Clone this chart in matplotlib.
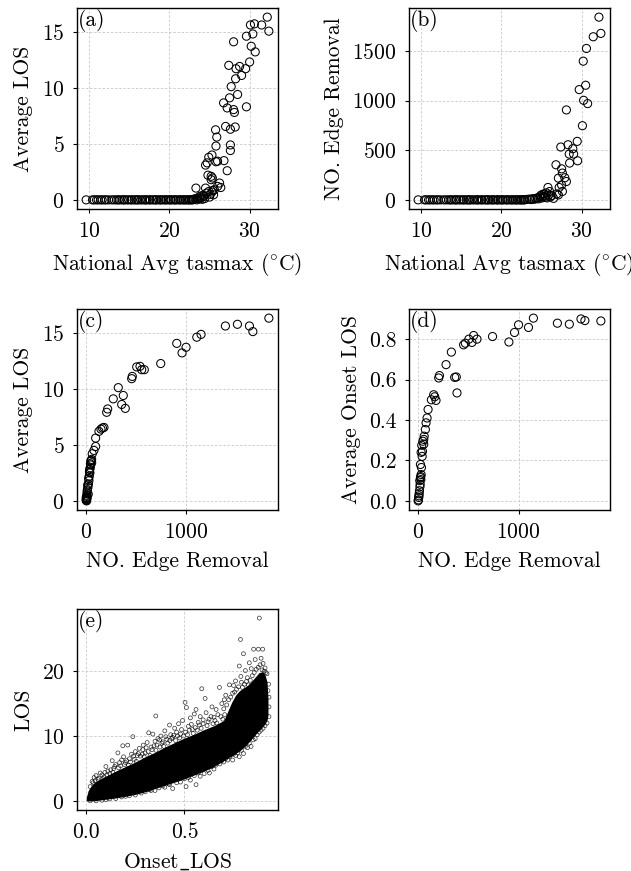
import matplotlib
matplotlib.use("Agg")
import matplotlib.pyplot as plt

plt.rcParams['font.family'] = 'serif'
plt.rcParams['font.serif'] = ['cmr10']
plt.rcParams['mathtext.fontset'] = 'cm'
plt.rcParams['axes.formatter.use_mathtext'] = True
plt.rcParams['axes.unicode_minus'] = False

FS = 15.5

# days with no heat effect (avg LOS and edge removal both 0)
cool_tasmax = [9.6, 10.4, 10.6, 10.9, 11.1, 11.4, 11.6, 11.9, 12.1, 12.4, 12.8, 13.1,
               13.4, 13.6, 13.8, 14.1, 14.3, 14.4, 14.7, 14.9, 15.2, 15.3, 15.6, 15.8,
               16.0, 16.1, 16.4, 16.6, 16.9, 17.0, 17.2, 17.5, 17.6, 17.9, 18.1, 18.3,
               18.4, 18.7, 18.9, 19.0, 19.3, 19.5, 19.6, 19.9, 20.1, 20.2, 20.5, 20.7,
               20.8, 21.1, 21.3, 21.4, 21.7, 21.8, 22.0, 22.2, 22.4, 22.5, 22.7, 22.9]

# (a) tasmax vs average LOS (warm days)
a_tasmax = [22.8, 23.0, 23.2, 23.3, 23.4, 23.5, 23.6, 23.7, 23.8, 23.9, 24.0, 24.1, 24.2,
            24.3, 24.4, 24.5, 24.5, 24.6, 24.7, 24.8, 24.9, 24.9, 25.0, 25.1, 25.2, 25.2,
            25.3, 25.3, 25.35, 25.4, 25.5, 25.6, 25.75, 25.8, 25.8, 25.9, 26.0, 26.0, 26.25,
            26.4, 26.75, 26.8, 27.0, 27.2, 27.2, 27.4, 27.5, 27.6, 27.6, 27.6, 27.7, 28.0,
            28.0, 28.1, 28.2, 28.25, 28.3, 28.5, 28.75, 29.0, 29.5, 29.6, 29.6, 30.0, 30.1,
            30.2, 30.4, 30.6, 30.7, 31.5, 32.2, 32.4]
a_los = [0.02, 0.05, 0.1, 1.05, 0.0, 0.15, 0.08, 0.25, 0.1, 0.35, 0.2, 0.05, 0.4,
         0.3, 0.12, 3.1, 1.05, 0.6, 3.3, 2.2, 3.8, 0.75, 0.25, 0.5, 2.1, 1.8,
         4.0, 0.7, 1.95, 0.85, 0.45, 0.9, 6.25, 4.8, 3.4, 5.6, 3.45, 1.2, 1.5,
         1.1, 8.65, 3.5, 6.55, 8.2, 2.6, 12.0, 9.1, 6.3, 4.9, 4.4, 10.1, 14.1,
         8.05, 7.8, 6.5, 10.8, 11.7, 9.4, 11.9, 11.1, 11.7, 14.6, 8.3, 12.3, 15.6,
         13.7, 14.8, 15.7, 13.2, 15.6, 16.3, 15.05]

# (b) tasmax vs number of removed edges (warm days)
b_tasmax = [22.8, 23.2, 23.5, 23.7, 23.9, 24.1, 24.3, 24.5, 24.6, 24.8, 24.9, 25.0, 25.1,
            25.2, 25.3, 25.4, 25.5, 25.6, 25.7, 25.8, 25.9, 26.0, 26.1, 26.3, 26.5, 26.8,
            26.9, 27.1, 27.1, 27.2, 27.4, 27.5, 27.5, 27.6, 27.6, 27.9, 28.1, 28.1, 28.3,
            28.45, 28.5, 28.9, 29.0, 29.45, 29.5, 29.7, 30.1, 30.2, 30.25, 30.5, 30.6,
            30.75, 31.45, 32.16, 32.4]
b_edges = [2, 5, 8, 3, 12, 6, 15, 20, 10, 30, 45, 18, 55,
           35, 60, 25, 40, 70, 20, 125, 50, 84, 30, 45, 15, 354,
           60, 219, 50, 125, 533, 313, 150, 270, 85, 223, 907, 185, 556,
           462, 371, 516, 462, 590, 394, 1112, 748, 1399, 1004, 1156, 1527,
           971, 1645, 1843, 1679]

# (c) edge removal vs average LOS
c_edges = [1827, 1667, 1633, 1513, 1393, 1150, 1107, 907, 1000, 960, 747, 583, 557, 540,
           507, 463, 457, 323, 373, 273, 357, 393, 217, 207, 180, 165, 150, 130, 97, 97,
           80, 63, 57, 57, 50, 43, 47, 40, 35, 30, 27, 17, 20, 23, 13, 15, 10, 7, 5, 3,
           9, 11, 2, 4, 6, 12, 25, 33, 37, 45, 52]
c_los = [16.3, 15.1, 15.6, 15.75, 15.6, 14.85, 14.6, 14.05, 13.7, 13.2, 12.25, 11.7, 11.7, 12.0,
         11.95, 11.1, 10.9, 10.1, 9.4, 9.1, 8.6, 8.25, 8.2, 7.9, 6.55, 6.5, 6.4, 6.2, 5.6, 4.85,
         4.5, 4.2, 3.7, 3.4, 3.55, 2.95, 3.2, 2.5, 2.6, 1.8, 2.0, 1.4, 1.2, 0.6, 0.9, 1.0, 0.5, 0.0,
         0.2, 0.3, 0.4, 0.7, 0.05, 0.1, 0.15, 0.25, 1.5, 2.2, 2.8, 3.3, 3.6]

# (d) edge removal vs average onset LOS
d_edges = [1820, 1661, 1622, 1506, 1387, 1148, 1099, 1000, 960, 904, 741, 586, 553, 536,
           505, 470, 453, 331, 278, 212, 205, 364, 380, 387, 155, 165, 178, 132, 99, 89,
           79, 72, 60, 56, 56, 43, 40, 23, 33, 30, 47, 23, 30, 20, 13, 6, 3, 0, 16, 26,
           10, 18, 8, 36, 27]
d_onset = [0.89, 0.892, 0.90, 0.874, 0.879, 0.904, 0.858, 0.871, 0.833, 0.786, 0.813, 0.80,
           0.818, 0.784, 0.80, 0.78, 0.772, 0.736, 0.674, 0.62, 0.608, 0.611, 0.613, 0.534,
           0.525, 0.515, 0.497, 0.50, 0.452, 0.41, 0.386, 0.353, 0.32, 0.304, 0.28, 0.245,
           0.22, 0.18, 0.165, 0.24, 0.295, 0.115, 0.13, 0.082, 0.05, 0.017, 0.005, 0.0, 0.1,
           0.12, 0.035, 0.07, 0.025, 0.275, 0.105]

# (e) patient level: dense core band plus the scattered points around it
e_band_x = [0.0, 0.01, 0.03, 0.05, 0.1, 0.15, 0.2, 0.25, 0.3, 0.35, 0.4, 0.45, 0.5, 0.55,
            0.6, 0.65, 0.7, 0.72, 0.74, 0.76, 0.78, 0.8, 0.82, 0.84, 0.86, 0.88, 0.9,
            0.91, 0.92, 0.925]
e_band_lo = [0.0, 0.0, 0.0, 0.05, 0.25, 0.45, 0.7, 1.0, 1.4, 1.9, 2.4, 2.9, 3.4, 4.0,
             4.6, 5.3, 6.2, 6.6, 6.9, 7.3, 7.7, 8.2, 8.8, 9.5, 10.2, 10.9, 11.5,
             11.9, 12.4, 13.2]
e_band_hi = [0.5, 1.6, 2.5, 3.0, 3.8, 4.6, 5.3, 6.0, 6.8, 7.5, 8.3, 9.0, 9.7, 10.3,
             11.0, 11.6, 12.4, 13.8, 15.2, 16.3, 17.0, 17.4, 17.8, 18.4, 19.1, 19.8, 19.9,
             19.4, 18.4, 15.8]
e_onset = [0.03, 0.04, 0.05, 0.06, 0.071, 0.08, 0.09, 0.10, 0.11, 0.12, 0.132, 0.14, 0.15,
           0.161, 0.17, 0.18, 0.186, 0.19, 0.20, 0.211, 0.22, 0.23, 0.237, 0.24, 0.25, 0.26,
           0.27, 0.288, 0.29, 0.30, 0.31, 0.318, 0.33, 0.339, 0.35, 0.354, 0.36, 0.373, 0.38,
           0.39, 0.40, 0.41, 0.424, 0.43, 0.44, 0.45, 0.46, 0.47, 0.48, 0.49, 0.503, 0.51,
           0.52, 0.53, 0.54, 0.55, 0.559, 0.57, 0.58, 0.588, 0.595, 0.605, 0.61, 0.62, 0.635,
           0.64, 0.65, 0.661, 0.67, 0.678, 0.69, 0.70, 0.703, 0.71, 0.729, 0.745, 0.75, 0.76,
           0.779, 0.785, 0.787, 0.79, 0.80, 0.81, 0.82, 0.83, 0.84, 0.852, 0.86, 0.876, 0.881,
           0.89, 0.898, 0.90, 0.91, 0.92, 0.925, 0.93, 0.93,
           0.02, 0.08, 0.15, 0.25, 0.322, 0.35, 0.40, 0.424, 0.44, 0.48, 0.508, 0.53, 0.559,
           0.58, 0.60, 0.627, 0.65, 0.68, 0.70, 0.72, 0.745, 0.76, 0.779, 0.80, 0.82, 0.839,
           0.86, 0.88, 0.90, 0.92,
           0.02, 0.035, 0.045, 0.065, 0.085, 0.095, 0.105, 0.125, 0.135, 0.145, 0.165, 0.175,
           0.195, 0.205, 0.215, 0.225, 0.245, 0.255, 0.265, 0.275, 0.285, 0.295, 0.305, 0.315,
           0.325, 0.335, 0.345, 0.355, 0.365, 0.375, 0.385, 0.395, 0.405, 0.415, 0.425, 0.435,
           0.445, 0.455, 0.465, 0.475, 0.485, 0.495, 0.505, 0.515, 0.525, 0.535, 0.545, 0.555,
           0.565, 0.575, 0.585, 0.595, 0.615, 0.625, 0.645, 0.655, 0.665, 0.685, 0.695, 0.705,
           0.715, 0.725, 0.735, 0.755, 0.765, 0.775, 0.795, 0.805, 0.815, 0.825, 0.835, 0.845,
           0.855, 0.865, 0.875, 0.885, 0.895, 0.905, 0.915, 0.928,
           0.05, 0.1, 0.12, 0.18, 0.2, 0.22, 0.28, 0.3, 0.33, 0.37, 0.39, 0.42, 0.46, 0.5,
           0.52, 0.55, 0.57, 0.62, 0.64, 0.66, 0.69, 0.71, 0.73, 0.75, 0.77, 0.79, 0.81,
           0.83, 0.85, 0.87, 0.89, 0.91, 0.93]
e_los = [3.0, 3.6, 3.9, 3.3, 4.3, 4.0, 3.7, 5.3, 4.6, 4.2, 6.2, 5.0, 5.6,
         7.4, 5.9, 6.3, 8.5, 6.8, 5.9, 8.6, 6.5, 7.2, 9.9, 6.9, 7.6, 7.0,
         8.1, 7.9, 8.6, 7.4, 9.0, 10.5, 8.3, 10.3, 9.2, 13.1, 8.6, 9.4, 10.0,
         9.1, 10.8, 9.5, 11.7, 10.2, 9.8, 11.2, 10.6, 11.9, 10.3, 12.4, 15.2, 14.4,
         11.5, 12.8, 11.0, 13.4, 14.1, 12.1, 13.0, 17.3, 12.5, 15.8, 13.6, 12.2, 13.0,
         14.5, 12.9, 14.1, 13.3, 17.5, 15.0, 14.2, 15.6, 16.3, 17.9, 16.6, 17.8, 18.5,
         20.8, 24.9, 19.2, 18.3, 22.7, 20.1, 19.0, 21.3, 20.4, 23.4, 21.8, 23.4, 28.2,
         22.0, 23.4, 21.2, 20.5, 19.6, 17.0, 16.0, 14.5,
         0.0, 0.1, 0.35, 0.9, 1.7, 1.6, 2.1, 2.5, 1.9, 2.9, 2.2, 3.2, 2.5,
         3.8, 4.2, 4.3, 4.9, 5.7, 6.0, 6.3, 6.3, 7.0, 6.8, 7.3, 8.2, 8.4,
         9.6, 10.6, 11.2, 12.0,
         2.2, 2.8, 3.1, 3.5, 3.4, 4.4, 4.0, 4.8, 4.4, 5.3, 5.1, 5.4,
         5.6, 6.2, 5.5, 6.0, 6.4, 6.1, 7.3, 6.9, 7.2, 6.8, 8.2, 7.6,
         7.0, 7.9, 8.5, 7.8, 9.6, 8.3, 8.9, 8.4, 9.9, 8.9, 9.3, 9.6,
         10.1, 9.3, 10.0, 9.7, 11.0, 10.0, 10.6, 10.2, 10.9, 11.8, 10.4, 11.3,
         10.9, 11.7, 11.2, 11.9, 11.6, 12.6, 11.9, 12.4, 12.0, 13.0, 12.6, 13.3,
         14.8, 15.6, 16.0, 16.8, 17.2, 17.6, 17.5, 18.0, 18.4, 17.9, 18.6, 19.3,
         19.8, 20.3, 20.6, 21.0, 20.2, 20.0, 19.8, 18.0,
         0.0, 0.2, 0.3, 0.6, 0.7, 0.8, 1.2, 1.4, 1.6, 2.0, 2.3, 2.6, 2.8, 3.4,
         3.6, 3.9, 4.3, 4.7, 5.3, 5.5, 6.2, 6.5, 6.8, 7.2, 7.4, 7.8, 8.4,
         8.9, 9.4, 10.2, 10.9, 11.6, 13.0]

W, H = 631, 871
fig = plt.figure(figsize=(W / 100, H / 100), dpi=100)


def make_ax(left, top, size=201):
    ax = fig.add_axes([left / W, 1 - (top + size) / H, size / W, size / H])
    ax.grid(True, ls='--', lw=0.6, color='#c8c8c8', dashes=(3, 2))
    ax.set_axisbelow(True)
    ax.tick_params(labelsize=FS, length=3, width=0.8, pad=6)
    for s in ax.spines.values():
        s.set_linewidth(1.0)
    return ax


def tag(ax, s):
    ax.text(0.005, 0.997, s, transform=ax.transAxes, fontsize=FS, va='top', ha='left')


def circles(ax, x, y):
    ax.scatter(x, y, s=34, facecolors='none', edgecolors='black', linewidths=0.75, zorder=3)


# (a)
ax = make_ax(77, 8)
circles(ax, cool_tasmax + a_tasmax, [0] * len(cool_tasmax) + a_los)
ax.set_xticks([10, 20, 30])
ax.set_yticks([0, 5, 10, 15])
ax.set_xlabel(r'National Avg tasmax ($^{\circ}$C)', fontsize=FS, labelpad=7)
ax.set_ylabel('Average LOS', fontsize=FS, labelpad=6)
tag(ax, '(a)')

# (b)
ax = make_ax(409, 8)
circles(ax, cool_tasmax + b_tasmax, [0] * len(cool_tasmax) + b_edges)
ax.set_xticks([10, 20, 30])
ax.set_yticks([0, 500, 1000, 1500])
ax.set_xlabel(r'National Avg tasmax ($^{\circ}$C)', fontsize=FS, labelpad=7)
ax.set_ylabel('NO. Edge Removal', fontsize=FS, labelpad=6)
tag(ax, '(b)')

# (c)
ax = make_ax(77, 309)
circles(ax, c_edges, c_los)
ax.set_xticks([0, 1000])
ax.set_yticks([0, 5, 10, 15])
ax.set_xlabel('NO. Edge Removal', fontsize=FS, labelpad=7)
ax.set_ylabel('Average LOS', fontsize=FS, labelpad=6)
tag(ax, '(c)')

# (d)
ax = make_ax(409, 309)
circles(ax, d_edges, d_onset)
ax.set_xticks([0, 1000])
ax.set_yticks([0.0, 0.2, 0.4, 0.6, 0.8])
ax.set_yticklabels(['0.0', '0.2', '0.4', '0.6', '0.8'])
ax.set_xlabel('NO. Edge Removal', fontsize=FS, labelpad=7)
ax.set_ylabel('Average Onset LOS', fontsize=FS, labelpad=6)
tag(ax, '(d)')

# (e)
ax = make_ax(77, 609)
ax.fill_between(e_band_x, e_band_lo, e_band_hi, color='black', lw=0, zorder=2)
ax.scatter(e_onset, e_los, s=8, facecolors='none', edgecolors='black', linewidths=0.5,
           alpha=0.8, zorder=3)
ax.set_xlim(-0.047, 0.976)
ax.set_ylim(-1.41, 29.6)
ax.set_xticks([0.0, 0.5])
ax.set_xticklabels(['0.0', '0.5'])
ax.set_yticks([0, 10, 20])
ax.set_xlabel(r'Onset$\_$LOS', fontsize=FS, labelpad=7)
ax.set_ylabel('LOS', fontsize=FS, labelpad=6)
tag(ax, '(e)')

fig.savefig('out.png', dpi=100)
